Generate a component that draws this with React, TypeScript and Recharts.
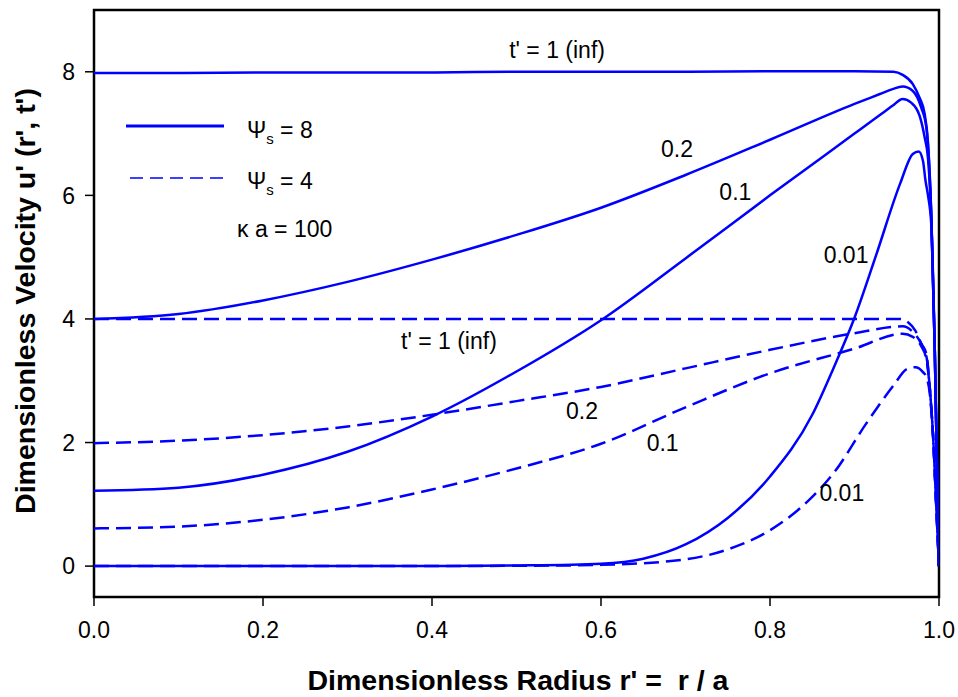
import React from "react";
import {
  LineChart,
  Line,
  XAxis,
  YAxis,
  ReferenceArea,
  ReferenceDot,
} from "recharts";

// Radial positions r' and velocities u' for each curve
// Psi_s = 8 (solid)
const rS8Inf = [0, 0.1, 0.2, 0.3, 0.4, 0.5, 0.6, 0.7, 0.8, 0.9, 0.946, 0.957, 0.969, 0.977, 0.983, 0.987, 0.991, 0.995, 0.999, 1.0];
const uS8Inf = [7.98, 7.98, 7.99, 7.99, 7.99, 8.0, 8.0, 8.0, 8.01, 8.01, 8.0, 7.95, 7.8, 7.58, 7.32, 6.85, 5.65, 3.5, 0.6, 0];

const rS8T02 = [0, 0.1, 0.2, 0.3, 0.4, 0.5, 0.6, 0.7, 0.8, 0.9, 0.93, 0.945, 0.957, 0.969, 0.979, 0.985, 0.991, 0.995, 0.999, 1.0];
const uS8T02 = [4.0, 4.08, 4.3, 4.6, 4.96, 5.36, 5.8, 6.33, 6.9, 7.48, 7.64, 7.72, 7.76, 7.69, 7.42, 7.1, 5.6, 3.5, 0.6, 0];

const rS8T01 = [0, 0.1, 0.2, 0.3, 0.4, 0.5, 0.6, 0.7, 0.8, 0.9, 0.93, 0.945, 0.957, 0.967, 0.977, 0.983, 0.987, 0.991, 0.995, 0.999, 1.0];
const uS8T01 = [1.22, 1.27, 1.48, 1.85, 2.42, 3.15, 3.98, 4.98, 6.0, 7.0, 7.3, 7.45, 7.56, 7.5, 7.29, 6.94, 6.6, 5.6, 3.5, 0.6, 0];

const rS8T001 = [0, 0.2, 0.4, 0.5, 0.6, 0.65, 0.7, 0.75, 0.8, 0.85, 0.875, 0.9, 0.926, 0.954, 0.969, 0.976, 0.981, 0.984, 0.987, 0.991, 0.995, 0.999, 1.0];
const uS8T001 = [0, 0, 0, 0.01, 0.04, 0.12, 0.35, 0.78, 1.45, 2.45, 3.2, 4.02, 5.05, 6.19, 6.67, 6.71, 6.56, 6.24, 6.0, 5.5, 3.5, 0.6, 0];

// Psi_s = 4 (dashed)
const rS4Inf = [0, 0.2, 0.4, 0.6, 0.8, 0.9, 0.954, 0.963, 0.972, 0.979, 0.985, 0.989, 0.993, 0.997, 1.0];
const uS4Inf = [4.0, 4.0, 4.0, 4.0, 4.0, 4.0, 4.0, 3.95, 3.81, 3.6, 3.44, 2.9, 2.1, 0.9, 0];

const rS4T02 = [0, 0.1, 0.2, 0.3, 0.4, 0.5, 0.6, 0.7, 0.8, 0.9, 0.957, 0.969, 0.979, 0.985, 0.989, 0.993, 0.997, 1.0];
const uS4T02 = [1.99, 2.03, 2.12, 2.26, 2.45, 2.67, 2.9, 3.2, 3.5, 3.77, 3.88, 3.79, 3.6, 3.4, 2.9, 2.1, 0.9, 0];

const rS4T01 = [0, 0.1, 0.2, 0.3, 0.4, 0.5, 0.6, 0.7, 0.8, 0.9, 0.957, 0.969, 0.979, 0.985, 0.989, 0.993, 0.997, 1.0];
const uS4T01 = [0.61, 0.64, 0.75, 0.95, 1.24, 1.58, 1.98, 2.57, 3.12, 3.52, 3.76, 3.71, 3.56, 3.35, 2.9, 2.1, 0.9, 0];

const rS4T001 = [0, 0.3, 0.5, 0.6, 0.7, 0.75, 0.8, 0.85, 0.875, 0.914, 0.946, 0.962, 0.972, 0.981, 0.985, 0.989, 0.993, 0.997, 1.0];
const uS4T001 = [0, 0, 0.005, 0.02, 0.11, 0.27, 0.58, 1.12, 1.5, 2.31, 2.92, 3.19, 3.22, 3.14, 3.06, 2.8, 2.1, 0.9, 0];

const xTicks = [0, 0.2, 0.4, 0.6, 0.8, 1.0];
const yTicks = [0, 2, 4, 6, 8];

// Curve labels anchored in data coordinates
const curveLabels = [
  { text: "t' = 1 (inf)", r: 0.548, u: 8.36 },
  { text: "0.2", r: 0.69, u: 6.76 },
  { text: "0.1", r: 0.759, u: 6.05 },
  { text: "0.01", r: 0.89, u: 5.04 },
  { text: "t' = 1 (inf)", r: 0.42, u: 3.64 },
  { text: "0.2", r: 0.5775, u: 2.52 },
  { text: "0.1", r: 0.673, u: 1.99 },
  { text: "0.01", r: 0.885, u: 1.18 },
];

const toPoints = (rs: number[], us: number[]) => rs.map((r, i) => ({ r, u: us[i] }));

const solidSeries = [
  toPoints(rS8Inf, uS8Inf),
  toPoints(rS8T02, uS8T02),
  toPoints(rS8T01, uS8T01),
  toPoints(rS8T001, uS8T001),
];
const dashedSeries = [
  toPoints(rS4Inf, uS4Inf),
  toPoints(rS4T02, uS4T02),
  toPoints(rS4T01, uS4T01),
  toPoints(rS4T001, uS4T001),
];

const FONT = "'Liberation Sans', Arial, Helvetica, sans-serif";
const BLUE = "#0000ff";

export default function App() {
  return (
    <div style={{ position: "absolute", left: 0, top: 0, width: 958, height: 697, background: "#fff" }}>
      <LineChart
        width={958}
        height={697}
        margin={{ top: 10, right: 19, left: 34, bottom: 40 }}
        style={{ fontFamily: FONT }}
      >
        <XAxis
          type="number"
          dataKey="r"
          domain={[0, 1]}
          ticks={xTicks}
          allowDataOverflow
          height={60}
          axisLine={false}
          tickLine={{ stroke: "#000", strokeWidth: 1.5 }}
          tickSize={9}
          tickMargin={16}
          tickFormatter={(v: number) => v.toFixed(1)}
          tick={{ fill: "#000", fontSize: 23, fontFamily: FONT }}
        />
        <YAxis
          type="number"
          domain={[-0.5, 9]}
          ticks={yTicks}
          allowDataOverflow
          width={60}
          axisLine={false}
          tickLine={{ stroke: "#000", strokeWidth: 1.5 }}
          tickSize={9}
          tickMargin={10}
          tick={{ fill: "#000", fontSize: 23, fontFamily: FONT }}
        />
        {solidSeries.map((d, i) => (
          <Line
            key={"s" + i}
            data={d}
            dataKey="u"
            type="monotone"
            stroke={BLUE}
            strokeWidth={2.5}
            dot={false}
            isAnimationActive={false}
          />
        ))}
        {dashedSeries.map((d, i) => (
          <Line
            key={"d" + i}
            data={d}
            dataKey="u"
            type="monotone"
            stroke={BLUE}
            strokeWidth={2.5}
            strokeDasharray="15 7"
            dot={false}
            isAnimationActive={false}
          />
        ))}
        <ReferenceArea x1={0} x2={1} y1={-0.5} y2={9} fill="none" stroke="#000" strokeWidth={2.5} />
        {curveLabels.map((l, i) => (
          <ReferenceDot
            key={"l" + i}
            x={l.r}
            y={l.u}
            r={1}
            fill="none"
            stroke="none"
            label={{ value: l.text, position: "center", fill: "#000", fontSize: 23, fontFamily: FONT }}
          />
        ))}
      </LineChart>
      <svg
        width={958}
        height={697}
        style={{ position: "absolute", left: 0, top: 0, pointerEvents: "none" }}
        fontFamily={FONT}
      >
        {/* legend */}
        <line x1={126} y1={126} x2={224} y2={126} stroke={BLUE} strokeWidth={3} />
        <line x1={130} y1={178} x2={224} y2={178} stroke={BLUE} strokeWidth={1.5} strokeDasharray="13 7" />
        <text x={247} y={138} fontSize={23} fill="#000">
          Ψ<tspan fontSize={15} dy={6}>s</tspan>
          <tspan dy={-6}> = 8</tspan>
        </text>
        <text x={247} y={189} fontSize={23} fill="#000">
          Ψ<tspan fontSize={15} dy={6}>s</tspan>
          <tspan dy={-6}> = 4</tspan>
        </text>
        <text x={237} y={237} fontSize={23} fill="#000">κ a = 100</text>
        {/* axis titles */}
        <text x={518} y={690} fontSize={28.5} fontWeight="bold" textAnchor="middle" fill="#000" xmlSpace="preserve">
          Dimensionless Radius r' =  r / a
        </text>
        <text
          x={0}
          y={0}
          transform="translate(35,301) rotate(-90)"
          fontSize={28.5}
          fontWeight="bold"
          textAnchor="middle"
          fill="#000"
        >
          Dimensionless Velocity u' (r', t')
        </text>
      </svg>
    </div>
  );
}
